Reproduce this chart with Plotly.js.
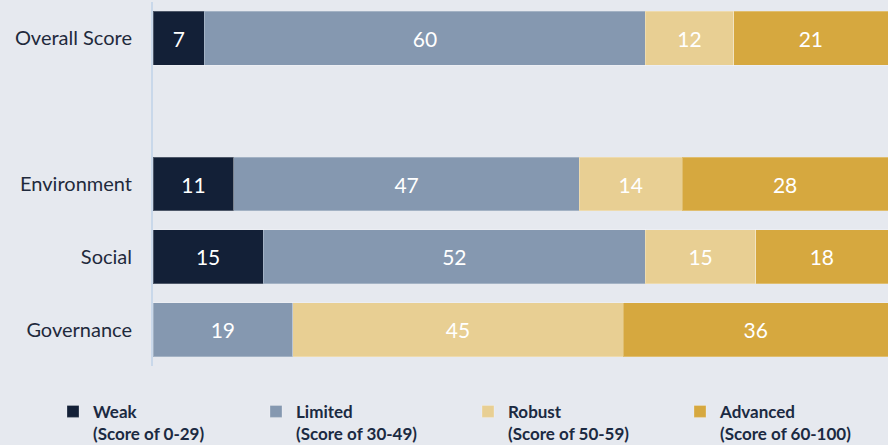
<!DOCTYPE html>
<html><head><meta charset="utf-8">
<script src="https://cdn.plot.ly/plotly-3.0.1.min.js"></script>
<style>html,body{margin:0;padding:0;background:#e6e9ef;}#chart{width:888px;height:445px;}</style>
</head><body><div id="chart"></div>
<script>
const categories = ['Overall Score', ' ', 'Environment', 'Social', 'Governance'];
const weak     = [7,  null, 11, 15, null];
const limited  = [60, null, 47, 52, 19];
const robust   = [12, null, 14, 15, 45];
const advanced = [21, null, 28, 18, 36];
const seriesNames = [
  '<b>Weak</b><br><b>(Score of 0-29)</b>',
  '<b>Limited</b><br><b>(Score of 30-49)</b>',
  '<b>Robust</b><br><b>(Score of 50-59)</b>',
  '<b>Advanced</b><br><b>(Score of 60-100)</b>'
];
const colors = ['#132037', '#8598b0', '#e8cf93', '#d6a83f'];
const series = [weak, limited, robust, advanced];
const legendIds = ['legend', 'legend2', 'legend3', 'legend4'];
const legendX = [53, 256, 468, 680];

const traces = series.map((vals, i) => ({
  type: 'bar', orientation: 'h',
  y: categories, x: vals,
  name: seriesNames[i],
  legend: legendIds[i],
  marker: {color: colors[i], line: {color: 'rgba(255,255,255,0.25)', width: 1}},
  text: vals.map(v => v == null ? '' : String(v)),
  textposition: 'inside', insidetextanchor: 'middle',
  textfont: {color: '#ffffff', size: 21, family: 'Lato, sans-serif'},
  hoverinfo: 'x+y'
}));

const layout = {
  width: 888, height: 445,
  barmode: 'stack', bargap: 0.26,
  paper_bgcolor: '#e6e9ef', plot_bgcolor: '#e6e9ef',
  margin: {l: 153, r: 0, t: 2, b: 79},
  font: {family: 'Lato, sans-serif', color: '#1f2a3c'},
  xaxis: {range: [0, 100], visible: false, fixedrange: true},
  yaxis: {
    type: 'category', autorange: 'reversed',
    showline: true, linecolor: '#c9d8ea', linewidth: 2,
    showgrid: false, zeroline: false, ticks: '',
    ticklabelstandoff: 15,
    tickfont: {size: 20, color: '#1f2a3c', family: 'Lato, sans-serif'}
  },
  showlegend: true
};
legendIds.forEach((id, i) => {
  layout[id] = {
    orientation: 'h', xref: 'container', yref: 'container',
    x: legendX[i] / 888, xanchor: 'left', y: 0.115, yanchor: 'top',
    valign: 'top',
    font: {size: 17, color: '#1b2a42', family: 'Lato, sans-serif'},
    bgcolor: 'rgba(0,0,0,0)'
  };
});
Plotly.newPlot('chart', traces, layout, {displayModeBar: false, staticPlot: true});
</script></body></html>
